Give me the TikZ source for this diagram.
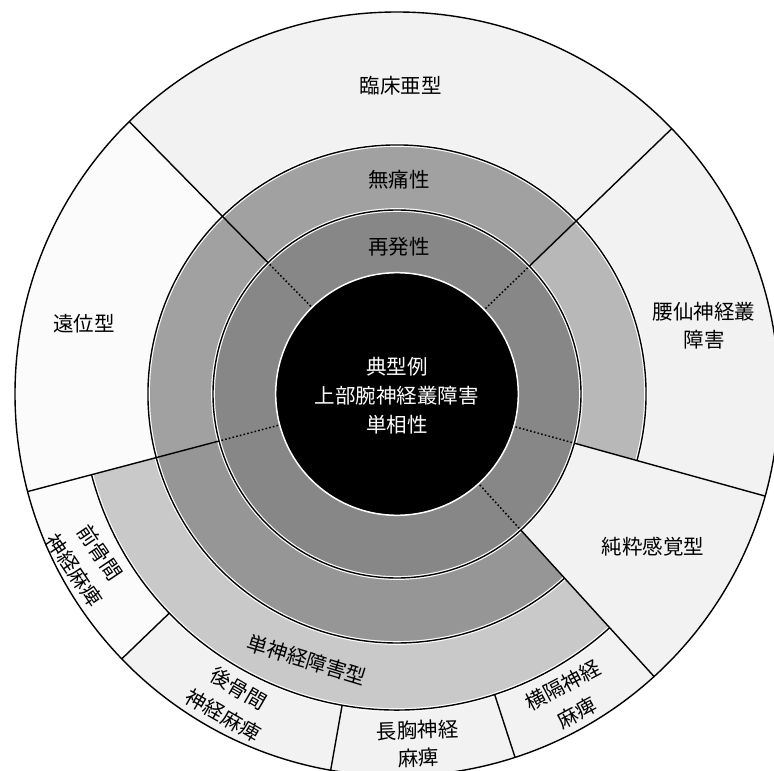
\documentclass[tikz,border=0pt]{standalone}
\usepackage{fontspec}
\setmainfont{Noto Sans CJK JP}
\definecolor{ringtwo}{gray}{0.53}
\definecolor{ringthree}{gray}{0.63}
\definecolor{ringthreeB}{gray}{0.59}
\definecolor{ringthreeR}{gray}{0.72}
\definecolor{ringfour}{gray}{0.79}
\definecolor{outerS}{gray}{0.95}
\definecolor{outerW}{gray}{0.985}
\tikzset{
  lbl/.style={font=\fontsize{20.5}{28}\selectfont, align=center, inner sep=0pt},
  rlbl/.style={font=\fontsize{20.5}{31}\selectfont, align=center, inner sep=0pt},
  bline/.style={line width=1.4pt, draw=black},
  halo/.style={line width=3.8pt, draw=white},
  dotln/.style={line width=1.5pt, draw=black, dash pattern=on 1.6pt off 2.2pt},
}
\newcommand{\annsec}[5]{\fill[#1] (#2:#4) arc[start angle=#2, end angle=#3, radius=#4] -- (#3:#5) arc[start angle=#3, end angle=#2, radius=#5] -- cycle;}
\begin{document}
\begin{tikzpicture}[x=1pt,y=1pt]
\useasboundingbox (-397,-377) rectangle (377,394);
\clip (-397,-377) rectangle (377,394);
\fill[white] (-397,-377) rectangle (377,394);
% outer ring regions
\annsec{outerS}{44}{134.5}{249}{382}
\annsec{outerW}{134.5}{194.8}{249}{382}
\annsec{outerS}{-15.5}{44}{249}{382}
\annsec{outerS}{-47.7}{-15.5}{184}{382}
\annsec{outerW}{194.8}{223.9}{316}{382}
\annsec{outerS}{223.9}{260}{316}{382}
\annsec{outerS}{260}{288}{316}{382}
\annsec{outerS}{288}{312.3}{316}{382}
% ring 4
\annsec{ringfour}{194.8}{312.3}{249}{316}
% ring 3
\annsec{ringthree}{44}{134.5}{184}{249}
\annsec{ringthree}{134.5}{194.8}{184}{249}
\annsec{ringthreeB}{194.8}{312.3}{184}{249}
\annsec{ringthreeR}{-15.5}{44}{184}{249}
% ring 2
\fill[ringtwo] (0,0) circle[radius=184];
% centre
\fill[black] (0,0) circle[radius=121];
\draw[white, line width=1.5pt] (0,0) circle[radius=121.3];
% arcs with halos
\draw[halo] (0,0) circle[radius=184];
\draw[bline] (0,0) circle[radius=184];
\draw[halo] (-15.5:249) arc[start angle=-15.5, end angle=312.3, radius=249];
\draw[bline] (-15.5:249) arc[start angle=-15.5, end angle=312.3, radius=249];
\draw[halo] (194.8:316) arc[start angle=194.8, end angle=312.3, radius=316];
\draw[bline] (194.8:316) arc[start angle=194.8, end angle=312.3, radius=316];
\draw[bline] (0,0) circle[radius=382];
% radial lines
\foreach \a in {44,134.5,194.8,-15.5,-47.7}{
  \draw[bline] (\a:184) -- (\a:382);
  \draw[dotln] (\a:123) -- (\a:183);
}
\foreach \a in {223.9,260,288}{
  \draw[bline] (\a:316) -- (\a:382);
}
% labels
\node[lbl] (rinsho) at (4,308) {臨床亜型};
\node[lbl] (mutsu) at (2,214) {無痛性};
\node[lbl] (saihatsu) at (2,147) {再発性};
\node[lbl, text=white, font=\fontsize{20.5}{29}\selectfont] (tenkei) at (0,-2) {典型例\\上部腕神経叢障害\\単相性};
\node[lbl] (enni) at (-313,70) {遠位型};
\node[lbl] (yosen) at (307,68) {腰仙神経叢\\障害};
\node[lbl] (junsui) at (256,-153) {純粋感覚型};
\node[rlbl, rotate=-56] (zenkotsu) at (-310,-167) {前骨間\\神経麻痺};
\node[lbl, rotate=-17] (tanshinkei) at (-90,-266) {単神経障害型};
\node[rlbl, rotate=-30] (kokotsu) at (-166,-308) {後骨間\\神経麻痺};
\node[lbl, rotate=2] (chokyo) at (21,-350) {長胸神経\\麻痺};
\node[rlbl, rotate=28] (okaku) at (173,-305) {横隔神経\\麻痺};
\end{tikzpicture}
\end{document}
